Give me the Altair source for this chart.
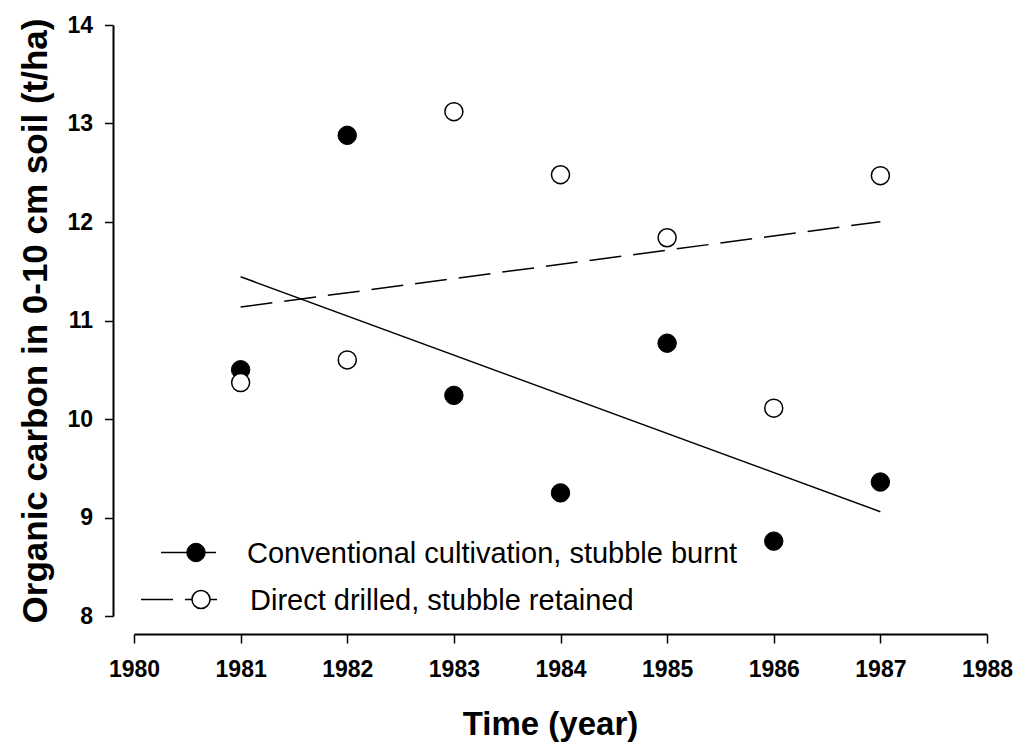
import altair as alt
import pandas as pd

years = [1981, 1982, 1983, 1984, 1985, 1986, 1987]
burnt = [10.50, 12.88, 10.24, 9.25, 10.77, 8.76, 9.36]
retained = [10.37, 10.60, 13.12, 12.48, 11.84, 10.11, 12.47]
series_names = ["Conventional cultivation, stubble burnt", "Direct drilled, stubble retained"]
x_ticks = [1980, 1981, 1982, 1983, 1984, 1985, 1986, 1987, 1988]
y_ticks = [8, 9, 10, 11, 12, 13, 14]

df = pd.DataFrame({
    "year": years * 2,
    "value": burnt + retained,
    "series": [series_names[0]] * len(years) + [series_names[1]] * len(years),
})

FONT = "Liberation Sans"
W, H = 853, 591

xscale = alt.Scale(domain=[1980, 1988], nice=False, zero=False)
yscale = alt.Scale(domain=[8, 14], nice=False, zero=False)

xaxis = alt.Axis(values=x_ticks, format="d", offset=18, tickSize=9, labelPadding=15,
                 labelFlush=False, labelOverlap=False,
                 grid=False, domainColor="black", domainWidth=2, tickColor="black", tickWidth=1.5,
                 labelFont=FONT, labelFontSize=23, labelFontWeight="bold", labelColor="black",
                 title="Time (year)", titleFont=FONT, titleFontSize=33, titleFontWeight="bold",
                 titleColor="black", titlePadding=27, titleX=416)
yaxis = alt.Axis(values=y_ticks, format="d", offset=21, tickSize=8.5, labelPadding=12,
                 labelFlush=False, labelOverlap=False,
                 grid=False, domainColor="black", domainWidth=2, tickColor="black", tickWidth=1.5,
                 labelFont=FONT, labelFontSize=23, labelFontWeight="bold", labelColor="black",
                 title="Organic carbon in 0-10 cm soil (t/ha)", titleFont=FONT, titleFontSize=35,
                 titleFontWeight="bold", titleColor="black", titlePadding=13)

base = alt.Chart(df)

x_enc = alt.X("year:Q", scale=xscale, axis=xaxis)
y_enc = alt.Y("value:Q", scale=yscale, axis=yaxis)

reg_burnt = base.transform_filter(alt.datum.series == series_names[0]).transform_regression(
    "year", "value", extent=[1981, 1987]
).mark_line(color="black", strokeWidth=1.5).encode(x=x_enc, y=y_enc)

reg_ret = base.transform_filter(alt.datum.series == series_names[1]).transform_regression(
    "year", "value", extent=[1981, 1987]
).mark_line(color="black", strokeWidth=1.5, strokeDash=[32, 12]).encode(x=x_enc, y=y_enc)

pts_burnt = base.transform_filter(alt.datum.series == series_names[0]).mark_point(
    shape="circle", filled=True, fill="black", stroke="black", strokeWidth=1, size=340, opacity=1
).encode(x=x_enc, y=y_enc)

pts_ret = base.transform_filter(alt.datum.series == series_names[1]).mark_point(
    shape="circle", filled=True, fill="white", stroke="black", strokeWidth=1.5, size=324, opacity=1
).encode(x=x_enc, y=y_enc)

# custom legend
leg = pd.DataFrame({"label": series_names})
leg1 = alt.Chart(leg).transform_filter(alt.datum.label == series_names[0])
leg2 = alt.Chart(leg).transform_filter(alt.datum.label == series_names[1])

l1_line = leg1.mark_rule(color="black", strokeWidth=1.5).encode(
    x=alt.value(27), x2=alt.value(82), y=alt.value(527.5))
l1_pt = leg1.mark_point(shape="circle", filled=True, fill="black", stroke="black", strokeWidth=1,
                        size=340, opacity=1).encode(x=alt.value(62), y=alt.value(527.5))
l1_txt = leg1.mark_text(align="left", baseline="middle", font=FONT, fontSize=29, color="black").encode(
    x=alt.value(113), y=alt.value(529), text="label:N")

l2_line = leg2.mark_rule(color="black", strokeWidth=1.5, strokeDash=[32, 12]).encode(
    x=alt.value(7), x2=alt.value(83), y=alt.value(574.5))
l2_pt = leg2.mark_point(shape="circle", filled=True, fill="white", stroke="black", strokeWidth=1.5,
                        size=324, opacity=1).encode(x=alt.value(67), y=alt.value(574.5))
l2_txt = leg2.mark_text(align="left", baseline="middle", font=FONT, fontSize=29, color="black").encode(
    x=alt.value(116), y=alt.value(576), text="label:N")

chart = alt.layer(
    reg_burnt, reg_ret, pts_burnt, pts_ret,
    l1_line, l1_pt, l1_txt, l2_line, l2_pt, l2_txt
).properties(
    width=W, height=H,
    padding={"left": 134, "top": 25, "right": 28, "bottom": 126},
    autosize=alt.AutoSizeParams(type="none"),
    background="white",
).configure_view(stroke=None)

chart.save("out.html", embed_options={"renderer": "svg", "actions": False})
